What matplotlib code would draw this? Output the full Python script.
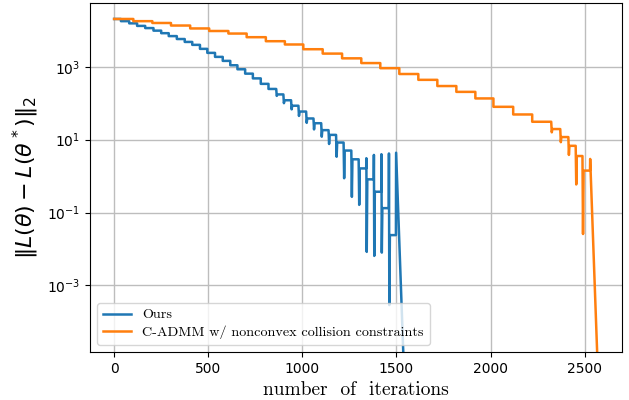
import numpy as np
import matplotlib
matplotlib.use('Agg')
import matplotlib.pyplot as plt
from matplotlib.ticker import FixedLocator, NullLocator

# values, stored as log10 of the error
# "Ours": step iterations, plateau level after each step, dip / peak at the step
blue_steps = [0, 36, 80, 122, 165, 209, 250, 290, 333, 375, 415, 456, 495, 536, 577,
              617, 655, 696, 737, 779, 820, 861, 899, 940, 979, 1020, 1059, 1100, 1139,
              1179, 1219, 1260, 1299, 1339, 1379, 1419, 1459]
blue_levels = [4.31, 4.25, 4.19, 4.12, 4.06, 3.99, 3.92, 3.84, 3.76, 3.68, 3.60, 3.49,
               3.38, 3.27, 3.16, 3.04, 2.93, 2.81, 2.68, 2.53, 2.39, 2.24, 2.08, 1.93,
               1.77, 1.58, 1.45, 1.26, 1.13, 0.92, 0.70, 0.46, 0.21, -0.09, -0.43, -0.88,
               -1.62]
blue_dips = [np.nan] * 21 + [2.20, 2.00, 1.83, 1.65, 1.46, 1.28, 1.08, 0.88, 0.53, -0.06,
                             -0.57, -0.79, -2.08, -2.19, -2.10, -3.54]
blue_peaks = [np.nan] * 33 + [0.49, 0.58, 0.60, 0.62]
blue_tail_x = [1498, 1540]
blue_tail_y = [0.64, -5.4]

# C-ADMM
orange_steps = [0, 102, 203, 302, 404, 505, 607, 704, 806, 907, 1005, 1108, 1211, 1313,
                1414, 1515, 1616, 1717, 1818, 1919, 2015, 2120, 2221, 2322, 2370, 2413,
                2452, 2488]
orange_levels = [4.31, 4.25, 4.20, 4.13, 4.05, 3.98, 3.91, 3.81, 3.70, 3.61, 3.48, 3.36,
                 3.23, 3.10, 2.96, 2.80, 2.64, 2.47, 2.31, 2.13, 1.90, 1.69, 1.49, 1.29,
                 1.07, 0.83, 0.55, 0.15]
orange_dips = [np.nan] * 23 + [1.20, 0.93, 0.58, -0.23, -1.59]
orange_peaks = [np.nan] * 28
orange_tail_x = [2529, 2570]
orange_tail_y = [0.47, -5.4]


def build_curve(steps, levels, dips, peaks, tail_x, tail_y):
    xs, ys = [steps[0]], [levels[0]]
    for i in range(1, len(steps)):
        t = steps[i]
        xs.append(t)
        ys.append(levels[i - 1])
        if not np.isnan(peaks[i]):
            xs.append(t + 1)
            ys.append(peaks[i])
        if not np.isnan(dips[i]):
            xs.append(t + 3)
            ys.append(dips[i])
            xs.append(t + 6)
        else:
            xs.append(t)
        ys.append(levels[i])
    xs.append(tail_x[0] - 1)
    ys.append(levels[-1])
    xs += tail_x
    ys += tail_y
    return np.array(xs), 10.0 ** np.array(ys)


bx, by = build_curve(blue_steps, blue_levels, blue_dips, blue_peaks, blue_tail_x, blue_tail_y)
ox, oy = build_curve(orange_steps, orange_levels, orange_dips, orange_peaks,
                     orange_tail_x, orange_tail_y)

fig = plt.figure(figsize=(6.29, 4.0), dpi=100)
ax = fig.add_axes([0.143, 0.12, 0.846, 0.8725])

ax.plot(bx, by, color='tab:blue', lw=1.8, label='Ours')
ax.plot(ox, oy, color='tab:orange', lw=1.8, label='C-ADMM w/ nonconvex collision constraints')

ax.set_yscale('log')
ax.set_ylim(1.49e-5, 5.6e4)
ax.yaxis.set_major_locator(FixedLocator([1e-3, 1e-1, 1e1, 1e3]))
ax.yaxis.set_minor_locator(NullLocator())
ax.set_xticks([0, 500, 1000, 1500, 2000, 2500])
ax.tick_params(labelsize=10)
ax.grid(True, color='#bdbdbd', lw=1.0)

ax.set_xlabel('number  of  iterations', family='cmr10', fontsize=14)
ax.set_ylabel(r'$\|L(\theta) - L(\theta^*)\|_2$', fontsize=16)

ax.legend(loc='lower left', prop={'family': 'cmr10', 'size': 10.2}, labelspacing=0.3,
          handlelength=2.0)

fig.savefig('out.png', dpi=100)
